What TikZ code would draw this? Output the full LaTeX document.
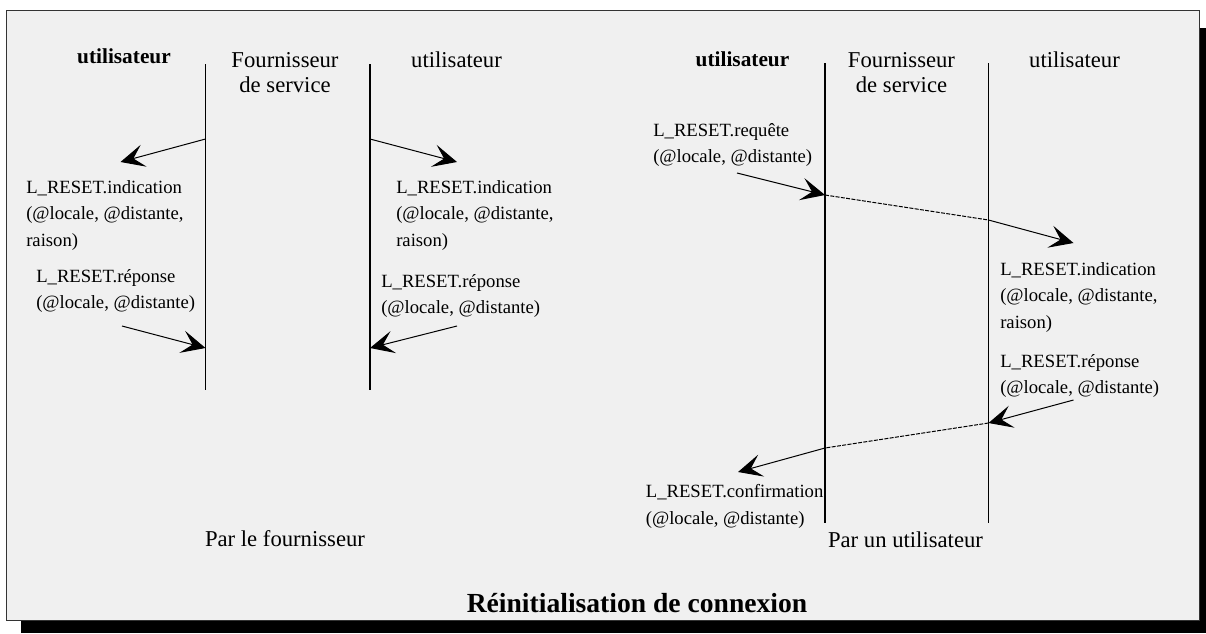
\documentclass[tikz,border=0pt]{standalone}
\usepackage{fontspec}
\setmainfont{Liberation Serif}
\usetikzlibrary{arrows.meta,positioning}
\definecolor{panel}{HTML}{F0F0F0}
\definecolor{rim}{HTML}{333333}
\tikzset{every node/.append style={inner sep=0pt}}
\tikzset{prim/.style={align=left,anchor=north west,font=\fontsize{14}{20}\selectfont}}
\tikzset{head/.style={anchor=base,font=\fontsize{17}{19}\selectfont}}
\tikzset{msg/.style={line width=.75pt,-{Stealth[length=18pt,width=17pt,inset=8pt]}}}
\tikzset{relay/.style={line width=.75pt,dash pattern=on 3pt off 1pt}}
\tikzset{life/.style={line width=.8pt}}

\begin{document}
\begin{tikzpicture}[x=.75pt,y=-.75pt]
  \useasboundingbox (0,0) rectangle (1206,633);
  \fill[black] (21,28) rectangle (1206,633);
  \draw[rim,fill=panel,line width=.75pt] (6,10) rectangle (1199,620);
  % par le fournisseur
  \node[head,font=\fontsize{16}{19}\selectfont\bfseries] (uA) at (124,63) {utilisateur};
  \node[head,anchor=north,align=center] (fA) at (285,52) {Fournisseur\\de service};
  \node[head] (uB) at (456.5,67) {utilisateur};
  \coordinate (tA) at (205.5,64);
  \coordinate (bA) at (205.5,390);
  \coordinate (tB) at (370,64);
  \coordinate (bB) at (370,390);
  \draw[life] (tA) -- (bA);
  \draw[life] (tB) -- (bB);
  \coordinate (oA) at (205.5,139);
  \coordinate (oB) at (370,139);
  \coordinate (pA) at (120.5,162);
  \coordinate (pB) at (457,162);
  \node[prim] (indA) at (26,180) {L\_RESET.indication\\(@locale, @distante,\\raison)};
  \node[prim] (indB) at (396,180) {L\_RESET.indication\\(@locale, @distante,\\raison)};
  \node[prim] (repA) at (36,269) {L\_RESET.réponse\\(@locale, @distante)};
  \node[prim] (repB) at (381,274) {L\_RESET.réponse\\(@locale, @distante)};
  \coordinate (qA) at (122,326);
  \coordinate (qB) at (457,326);
  \coordinate (iA) at (205.5,348);
  \coordinate (iB) at (370,348);
  \draw[msg] (oA) -- (pA);
  \draw[msg] (oB) -- (pB);
  \draw[msg] (qA) -- (iA);
  \draw[msg] (qB) -- (iB);
  \node[head] (parA) at (285,546) {Par le fournisseur};
  % par un utilisateur
  \node[head,font=\fontsize{16}{19}\selectfont\bfseries] (uC) at (742.5,66) {utilisateur};
  \node[head,anchor=north,align=center] (fC) at (901.5,52) {Fournisseur\\de service};
  \node[head] (uD) at (1074.5,67) {utilisateur};
  \coordinate (tC) at (825,63);
  \coordinate (bC) at (825,523);
  \coordinate (tD) at (988.5,63);
  \coordinate (bD) at (988.5,523);
  \draw[life] (tC) -- (bC);
  \draw[life] (tD) -- (bD);
  \node[prim] (reqC) at (653,123) {L\_RESET.requête\\(@locale, @distante)};
  \node[prim] (indD) at (1000,262) {L\_RESET.indication\\(@locale, @distante,\\raison)};
  \node[prim] (repD) at (1000,354) {L\_RESET.réponse\\(@locale, @distante)};
  \node[prim] (cnfC) at (645.6,484) {L\_RESET.confirmation\\(@locale, @distante)};
  \coordinate (sC) at (737,173);
  \coordinate (xC) at (825,195);
  \coordinate (xD) at (988.5,220);
  \coordinate (eD) at (1073.5,243);
  \coordinate (sD) at (1073.5,400);
  \coordinate (yD) at (988.5,423);
  \coordinate (yC) at (825,448);
  \coordinate (eC) at (738,472);
  \draw[msg] (sC) -- (xC);
  \draw[relay] (xC) -- (xD);
  \draw[msg] (xD) -- (eD);
  \draw[msg] (sD) -- (yD);
  \draw[relay] (yD) -- (yC);
  \draw[msg] (yC) -- (eC);
  \node[head] (parC) at (905.5,547) {Par un utilisateur};
  \node[anchor=base,font=\fontsize{20.7}{24}\selectfont\bfseries] (titre) at (637,612) {Réinitialisation de connexion};
\end{tikzpicture}
\end{document}
